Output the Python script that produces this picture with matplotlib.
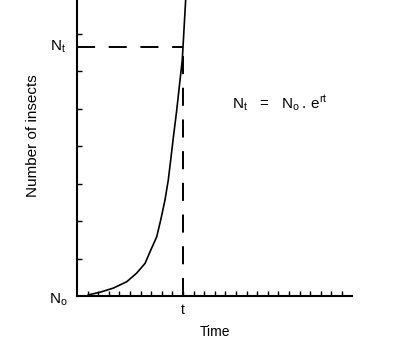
import matplotlib
matplotlib.use("Agg")
import matplotlib.pyplot as plt

# values (x in time-tick units, y in y-tick units)
curve_time = [1.07, 2.17, 3.42, 4.69, 5.63, 6.42, 6.89, 7.52, 7.90, 8.30, 8.61, 8.84,
              9.12, 9.41, 9.72, 9.93, 10.25]
curve_insects = [0.03, 0.10, 0.21, 0.38, 0.61, 0.87, 1.18, 1.58, 2.03, 2.56, 3.09, 3.63,
                 4.30, 4.96, 5.76, 6.29, 7.89]
t_mark = 10
nt_level = 6.64
x_ticks = list(range(1, 26))
y_ticks = list(range(1, 8))

plt.rcParams['font.family'] = ['Liberation Sans', 'DejaVu Sans']
plt.rcParams['mathtext.fontset'] = 'custom'
plt.rcParams['mathtext.rm'] = 'Liberation Sans'

fig = plt.figure(figsize=(4, 3.56), dpi=100)
ax = fig.add_axes([77 / 400, 60 / 356, 275 / 400, 296 / 356])

ax.plot(curve_time, curve_insects, color='black', lw=1.2, clip_on=False)

# dashed guides to N_t and t
ax.plot([0, t_mark], [nt_level, nt_level], color='black', lw=1.4, dashes=(9.3, 7.0))
ax.plot([t_mark, t_mark], [0, nt_level], color='black', lw=1.4, dashes=(9.3, 7.0))

ax.set_xlim(0, 275 / 10.6)
ax.set_ylim(0, 296 / 37.5)
for side in ['top', 'right']:
    ax.spines[side].set_visible(False)
for side in ['left', 'bottom']:
    ax.spines[side].set_linewidth(1.5)

ax.set_xticks(x_ticks)
ax.set_yticks(y_ticks)
ax.set_xticklabels([])
ax.set_yticklabels([])
ax.tick_params(direction='in', length=3.6, width=1.0)

fig.text(58 / 400, 1 - 47 / 356, r'$\mathregular{N_t}$', fontsize=11, ha='center', va='center')
fig.text(58 / 400, 1 - 300 / 356, r'$\mathregular{N_o}$', fontsize=11, ha='center', va='center')
ax.annotate('t', xy=(t_mark, 0), xytext=(0, -10), textcoords='offset points',
            ha='center', va='center', fontsize=10)
fig.text(215 / 400, 1 - 332 / 356, 'Time', fontsize=10, ha='center', va='center')
fig.text(33 / 400, 1 - 136 / 356, 'Number of insects', fontsize=11, rotation=90,
         ha='center', va='center')
fig.text(280 / 400, 1 - 103 / 356, r'$\mathregular{N_t\ \ =\ \ N_o\,.\,e^{rt}}$', fontsize=11,
         ha='center', va='center')

fig.savefig('out.png', dpi=100)
